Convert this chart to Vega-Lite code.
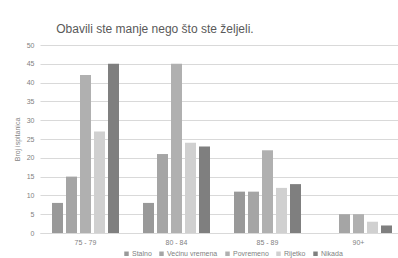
{
  "$schema": "https://vega.github.io/schema/vega-lite/v6.json",
  "autosize": "none",
  "width": 364,
  "height": 188,
  "padding": {"left": 40, "top": 45, "right": 0, "bottom": 25},
  "background": "#ffffff",
  "title": {
    "text": "Obavili ste manje nego što ste željeli.",
    "anchor": "start",
    "dx": 43,
    "offset": 5,
    "font": "Liberation Sans",
    "fontSize": 12,
    "fontWeight": "normal",
    "color": "#595959"
  },
  "data": {
    "values": [
      {"grupa": "75 - 79", "odgovor": "Stalno", "broj": 8},
      {"grupa": "75 - 79", "odgovor": "Većinu vremena", "broj": 15},
      {"grupa": "75 - 79", "odgovor": "Povremeno", "broj": 42},
      {"grupa": "75 - 79", "odgovor": "Rijetko", "broj": 27},
      {"grupa": "75 - 79", "odgovor": "Nikada", "broj": 45},
      {"grupa": "80 - 84", "odgovor": "Stalno", "broj": 8},
      {"grupa": "80 - 84", "odgovor": "Većinu vremena", "broj": 21},
      {"grupa": "80 - 84", "odgovor": "Povremeno", "broj": 45},
      {"grupa": "80 - 84", "odgovor": "Rijetko", "broj": 24},
      {"grupa": "80 - 84", "odgovor": "Nikada", "broj": 23},
      {"grupa": "85 - 89", "odgovor": "Stalno", "broj": 11},
      {"grupa": "85 - 89", "odgovor": "Većinu vremena", "broj": 11},
      {"grupa": "85 - 89", "odgovor": "Povremeno", "broj": 22},
      {"grupa": "85 - 89", "odgovor": "Rijetko", "broj": 12},
      {"grupa": "85 - 89", "odgovor": "Nikada", "broj": 13},
      {"grupa": "90+", "odgovor": "Stalno", "broj": 0},
      {"grupa": "90+", "odgovor": "Većinu vremena", "broj": 5},
      {"grupa": "90+", "odgovor": "Povremeno", "broj": 5},
      {"grupa": "90+", "odgovor": "Rijetko", "broj": 3},
      {"grupa": "90+", "odgovor": "Nikada", "broj": 2}
    ]
  },
  "mark": {"type": "bar", "width": 11},
  "encoding": {
    "x": {
      "field": "grupa",
      "type": "nominal",
      "sort": null,
      "scale": {"paddingInner": 0, "paddingOuter": 0},
      "axis": {
        "title": null,
        "labelAngle": 0,
        "labelFont": "Liberation Sans",
        "labelFontSize": 7,
        "labelColor": "#7f7f7f",
        "labelPadding": 5,
        "ticks": false,
        "domainColor": "#d9d9d9",
        "grid": false
      }
    },
    "xOffset": {
      "field": "odgovor",
      "type": "nominal",
      "sort": ["Stalno", "Većinu vremena", "Povremeno", "Rijetko", "Nikada"],
      "scale": {"paddingInner": 0.214, "paddingOuter": 0.857}
    },
    "y": {
      "field": "broj",
      "type": "quantitative",
      "scale": {"domain": [0, 50]},
      "axis": {
        "title": "Broj ispitanica",
        "titleFont": "Liberation Sans",
        "titleFontSize": 7,
        "titleFontWeight": "normal",
        "titleColor": "#7f7f7f",
        "titlePadding": 6,
        "values": [0, 5, 10, 15, 20, 25, 30, 35, 40, 45, 50],
        "labelFont": "Liberation Sans",
        "labelFontSize": 7,
        "labelColor": "#7f7f7f",
        "labelPadding": 6,
        "ticks": false,
        "domain": false,
        "gridColor": "#d9d9d9",
        "gridWidth": 1
      }
    },
    "color": {
      "field": "odgovor",
      "type": "nominal",
      "sort": ["Stalno", "Većinu vremena", "Povremeno", "Rijetko", "Nikada"],
      "scale": {
        "domain": ["Stalno", "Većinu vremena", "Povremeno", "Rijetko", "Nikada"],
        "range": ["#999999", "#a5a5a5", "#b0b0b0", "#d0d0d0", "#7f7f7f"]
      },
      "legend": {
        "title": null,
        "orient": "none",
        "legendX": 83,
        "legendY": 205,
        "direction": "horizontal",
        "symbolType": "square",
        "symbolSize": 20,
        "symbolStrokeWidth": 0,
        "labelFont": "Liberation Sans",
        "labelFontSize": 7,
        "labelColor": "#7f7f7f",
        "columnPadding": 6,
        "labelOffset": 2
      }
    }
  },
  "config": {
    "view": {"stroke": null}
  }
}
